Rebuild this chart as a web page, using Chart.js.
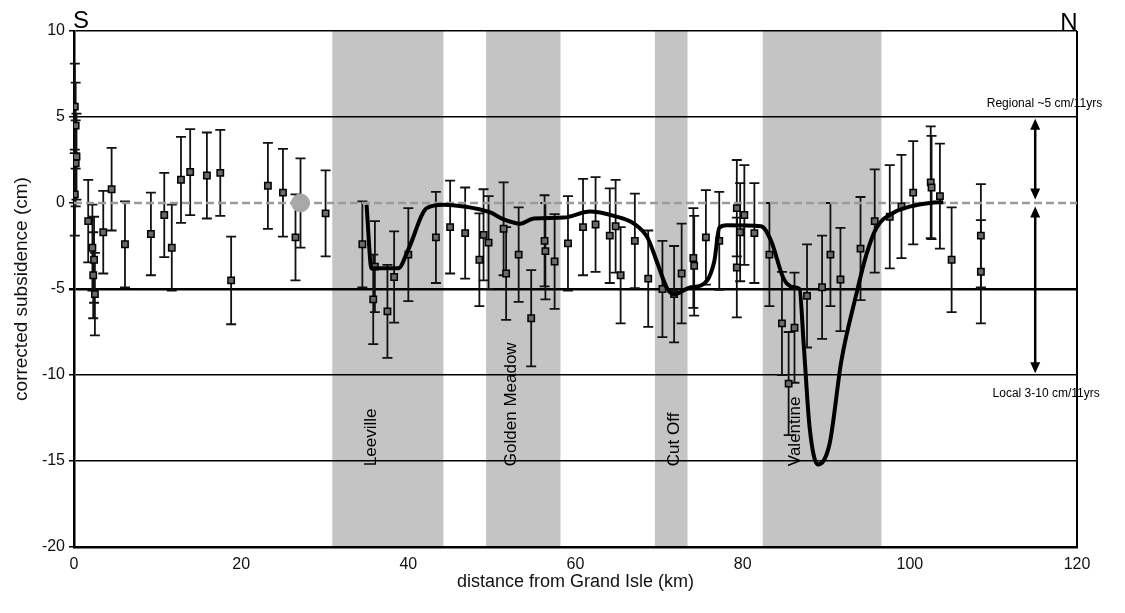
<!DOCTYPE html>
<html>
<head>
<meta charset="utf-8">
<script src="https://cdn.jsdelivr.net/npm/chart.js@4.4.1/dist/chart.umd.min.js"></script>
<style>
html, body { margin: 0; padding: 0; background: #fff; }
</style>
</head>
<body>
<canvas id="c" width="1125" height="613"></canvas>
<script>
// benchmark stations: distance (km), corrected subsidence (cm), error (cm)
const distKm = [0.1, 0.2, 0.3, 0.2, 0.1, 1.7, 2.2, 2.4, 2.3, 2.5, 3.5, 4.5, 6.1, 9.2, 10.8, 11.7, 12.8, 13.9, 15.9, 17.5,
    18.8, 23.2, 25.0, 26.5, 30.1, 34.5, 36.0, 35.8, 37.5, 38.3, 40.0, 43.3, 45.0, 46.8, 48.5, 49.0, 49.6, 51.4, 51.7, 53.2,
    54.7, 56.3, 56.4, 57.5, 59.1, 60.9, 62.4, 64.1, 64.8, 65.4, 67.1, 68.7, 70.4, 71.8, 72.7, 74.1, 74.2, 75.6, 77.2, 79.3,
    79.7, 79.3, 80.2, 81.4, 83.2, 84.7, 85.5, 86.2, 87.7, 89.5, 90.5, 91.7, 94.1, 95.8, 97.6, 99.0, 100.4, 102.5, 102.6, 103.6,
    105.0, 108.5, 108.5];
const subsidenceCm = [5.6, 4.5, 2.7, 2.3, 0.5, -1.05, -2.6, -3.3, -4.2, -5.3, -1.7, 0.8, -2.4, -1.8, -0.7, -2.6, 1.35, 1.8, 1.6, 1.75,
    -4.5, 1.0, 0.6, -2.0, -0.6, -2.4, -3.7, -5.6, -6.3, -4.3, -3.0, -2.0, -1.4, -1.75, -3.3, -1.85, -2.3, -1.5, -4.1, -3.0,
    -6.7, -2.2, -2.8, -3.4, -2.35, -1.4, -1.25, -1.9, -1.35, -4.2, -2.2, -4.4, -5.0, -5.3, -4.1, -3.2, -3.65, -2.0, -2.2, -0.3,
    -1.7, -3.75, -0.7, -1.75, -3.0, -7.0, -10.5, -7.25, -5.4, -4.9, -3.0, -4.45, -2.65, -1.05, -0.8, -0.2, 0.6, 1.2, 0.9, 0.4,
    -3.3, -1.9, -4.0];
const errCm = [2.5, 2.5, 2.5, 2.5, 2.4, 2.4, 2.5, 2.5, 2.5, 2.4, 2.4, 2.4, 2.5, 2.4, 2.45, 2.5, 2.5, 2.5, 2.5, 2.5,
    2.55, 2.5, 2.55, 2.5, 2.5, 2.5, 2.65, 2.6, 2.7, 2.65, 2.7, 2.65, 2.7, 2.65, 2.7, 2.65, 2.7, 2.7, 2.7, 2.75,
    2.8, 2.65, 2.8, 2.75, 2.75, 2.8, 2.75, 2.75, 2.7, 2.8, 2.75, 2.8, 2.8, 2.8, 2.9, 2.9, 2.9, 2.75, 2.85, 2.8,
    2.85, 2.9, 2.9, 2.9, 3.0, 3.0, 3.0, 3.2, 3.0, 3.0, 3.0, 3.0, 3.0, 3.0, 3.0, 3.0, 3.0, 3.25, 3.0, 3.05,
    3.05, 3.0, 3.0];

// reference station (grey circle)
const refKm = [27.1];
const refCm = [0];
const refErr = [2.6];

// smoothed subsidence profile
const fitKm = [35.0, 35.6, 38.8, 40.0, 42.2, 44.2, 46.6, 49.8, 51.4, 53.4, 55.0, 58.6, 61.7, 64.6, 67.0, 68.6, 69.8, 71.0, 71.8, 73.8,
    75.0, 76.6, 77.2, 78.1, 82.2, 83.4, 84.9, 86.1, 86.8, 87.3, 88.0, 89.0, 90.4, 91.8, 93.6, 94.8, 96.0, 98.1, 100.1, 102.4, 104.0];
const fitCm = [-0.1, -3.8, -3.8, -2.7, -0.3, -0.1, -0.2, -0.55, -0.95, -1.2, -0.9, -0.85, -0.5, -0.75, -1.2, -2.0, -3.5, -5.0, -5.3, -4.9,
    -4.8, -3.4, -1.45, -1.3, -1.35, -2.2, -4.4, -4.9, -5.0, -8.2, -13.0, -15.2, -14.0, -9.2, -5.3, -3.0, -1.45, -0.55, -0.2, 0.0, 0.05];

// towns crossed by the levelling line
const towns = ["Leeville", "Golden Meadow", "Cut Off", "Valentine"];
const townFrom = [30.9, 49.3, 69.5, 82.4];
const townTo = [44.2, 58.2, 73.4, 96.6];

const xMin = 0, xMax = 120, xStep = 20;
const yMin = -20, yMax = 10, yStep = 5;

const FONT = "'Liberation Sans', Arial, sans-serif";

function arrow(ctx, xp, y1, y2) {
    const head = 11, half = 5;
    ctx.beginPath();
    ctx.moveTo(xp, y1 + head - 2);
    ctx.lineTo(xp, y2 - head + 2);
    ctx.stroke();
    ctx.beginPath();
    ctx.moveTo(xp, y1); ctx.lineTo(xp - half, y1 + head); ctx.lineTo(xp + half, y1 + head); ctx.closePath();
    ctx.moveTo(xp, y2); ctx.lineTo(xp - half, y2 - head); ctx.lineTo(xp + half, y2 - head); ctx.closePath();
    ctx.fill();
}

const decor = {
    id: "decor",
    beforeDraw(chart) {
        const { ctx, chartArea: a, scales: { x } } = chart;
        ctx.save();
        ctx.fillStyle = "#fff";
        ctx.fillRect(0, 0, chart.width, chart.height);
        ctx.fillStyle = "#c4c4c4";
        towns.forEach((t, i) => {
            const l = x.getPixelForValue(townFrom[i]);
            const r = x.getPixelForValue(townTo[i]);
            ctx.fillRect(l, a.top, r - l, a.bottom - a.top);
        });
        ctx.restore();
    },
    beforeDatasetsDraw(chart) {
        const { ctx, scales: { x, y } } = chart;
        ctx.save();
        ctx.strokeStyle = "#111";
        ctx.lineWidth = 1.8;
        const bars = (xs, ys, es) => {
            xs.forEach((v, i) => {
                const xp = x.getPixelForValue(v);
                const top = y.getPixelForValue(ys[i] + es[i]);
                const bot = y.getPixelForValue(ys[i] - es[i]);
                ctx.beginPath();
                ctx.moveTo(xp, top); ctx.lineTo(xp, bot);
                ctx.moveTo(xp - 5, top); ctx.lineTo(xp + 5, top);
                ctx.moveTo(xp - 5, bot); ctx.lineTo(xp + 5, bot);
                ctx.stroke();
            });
        };
        bars(distKm, subsidenceCm, errCm);
        bars(refKm, refCm, refErr);
        ctx.restore();
    },
    afterDraw(chart) {
        const { ctx, chartArea: a, scales: { x, y } } = chart;
        ctx.save();
        ctx.fillStyle = "#000";
        ctx.strokeStyle = "#000";

        // town names, rotated
        ctx.font = "17px " + FONT;
        ctx.textAlign = "left";
        ctx.textBaseline = "middle";
        const labelX = [35.6, 52.3, 71.8, 86.3];
        towns.forEach((t, i) => {
            ctx.save();
            ctx.translate(x.getPixelForValue(labelX[i]), y.getPixelForValue(-15.3));
            ctx.rotate(-Math.PI / 2);
            ctx.fillText(t, 0, 0);
            ctx.restore();
        });

        // S / N
        ctx.font = "24px " + FONT;
        ctx.textAlign = "center";
        ctx.textBaseline = "bottom";
        ctx.fillText("S", a.left + 7, a.top + 2);
        ctx.fillText("N", a.right - 8, a.top + 4);

        // regional / local rates
        ctx.font = "12px " + FONT;
        ctx.textAlign = "left";
        ctx.textBaseline = "middle";
        ctx.fillText("Regional ~5 cm/11yrs", x.getPixelForValue(109.2), y.getPixelForValue(5.75));
        ctx.fillText("Local 3-10 cm/11yrs", x.getPixelForValue(109.9), y.getPixelForValue(-11.1));

        ctx.lineWidth = 2.5;
        const ax = x.getPixelForValue(115);
        arrow(ctx, ax, y.getPixelForValue(4.9), y.getPixelForValue(0.2));
        arrow(ctx, ax, y.getPixelForValue(-0.2), y.getPixelForValue(-9.9));
        ctx.restore();
    }
};

new Chart(document.getElementById("c"), {
    type: "scatter",
    data: {
        datasets: [
            {
                label: "stations",
                data: distKm.map((v, i) => ({ x: v, y: subsidenceCm[i] })),
                pointStyle: "rect",
                pointRadius: 4.5,
                backgroundColor: "#6a6a6a",
                borderColor: "#000",
                borderWidth: 1.5,
                order: 2
            },
            {
                label: "reference",
                data: refKm.map((v, i) => ({ x: v, y: refCm[i] })),
                pointStyle: "circle",
                pointRadius: 9,
                backgroundColor: "#a8a8a8",
                borderColor: "#a8a8a8",
                order: 1
            },
            {
                label: "profile",
                data: fitKm.map((v, i) => ({ x: v, y: fitCm[i] })),
                showLine: true,
                cubicInterpolationMode: "monotone",
                borderColor: "#000",
                borderWidth: 4,
                pointRadius: 0,
                order: 0
            },
            {
                label: "zero",
                data: [{ x: xMin, y: 0 }, { x: xMax, y: 0 }],
                showLine: true,
                borderColor: "#9a9a9a",
                borderWidth: 2.5,
                borderDash: [8, 4],
                pointRadius: 0,
                order: 3
            }
        ]
    },
    options: {
        responsive: false,
        animation: false,
        layout: { padding: { top: 31, right: 48, left: 0, bottom: 0 } },
        plugins: {
            legend: { display: false },
            tooltip: { enabled: false }
        },
        scales: {
            x: {
                type: "linear",
                min: xMin, max: xMax,
                afterFit: s => { s.height = 66; },
                ticks: { stepSize: xStep, color: "#111", padding: 8, font: { family: FONT, size: 16 } },
                grid: {
                    drawTicks: false,
                    lineWidth: 2,
                    color: c => (c.tick && c.tick.value === xMax ? "#000" : "rgba(0,0,0,0)")
                },
                border: { color: "#000", width: 2.5 },
                title: {
                    display: true,
                    text: "distance from Grand Isle (km)",
                    color: "#111",
                    font: { family: FONT, size: 18 },
                    padding: { top: 0, bottom: 20 }
                }
            },
            y: {
                type: "linear",
                min: yMin, max: yMax,
                afterFit: s => { s.width = 74; },
                ticks: { stepSize: yStep, color: "#111", padding: 4, font: { family: FONT, size: 16 } },
                grid: {
                    tickLength: 5,
                    lineWidth: c => (c.tick && c.tick.value === -5 ? 2.5 : 1.5),
                    color: c => (c.tick && c.tick.value === 0 ? "rgba(0,0,0,0)" : "#000"),
                    tickColor: "#000"
                },
                border: { color: "#000", width: 2.5 },
                title: {
                    display: true,
                    text: "corrected subsidence (cm)",
                    color: "#111",
                    font: { family: FONT, size: 19 },
                    padding: { top: 10, bottom: 0 }
                }
            }
        }
    },
    plugins: [decor]
});
</script>
</body>
</html>
